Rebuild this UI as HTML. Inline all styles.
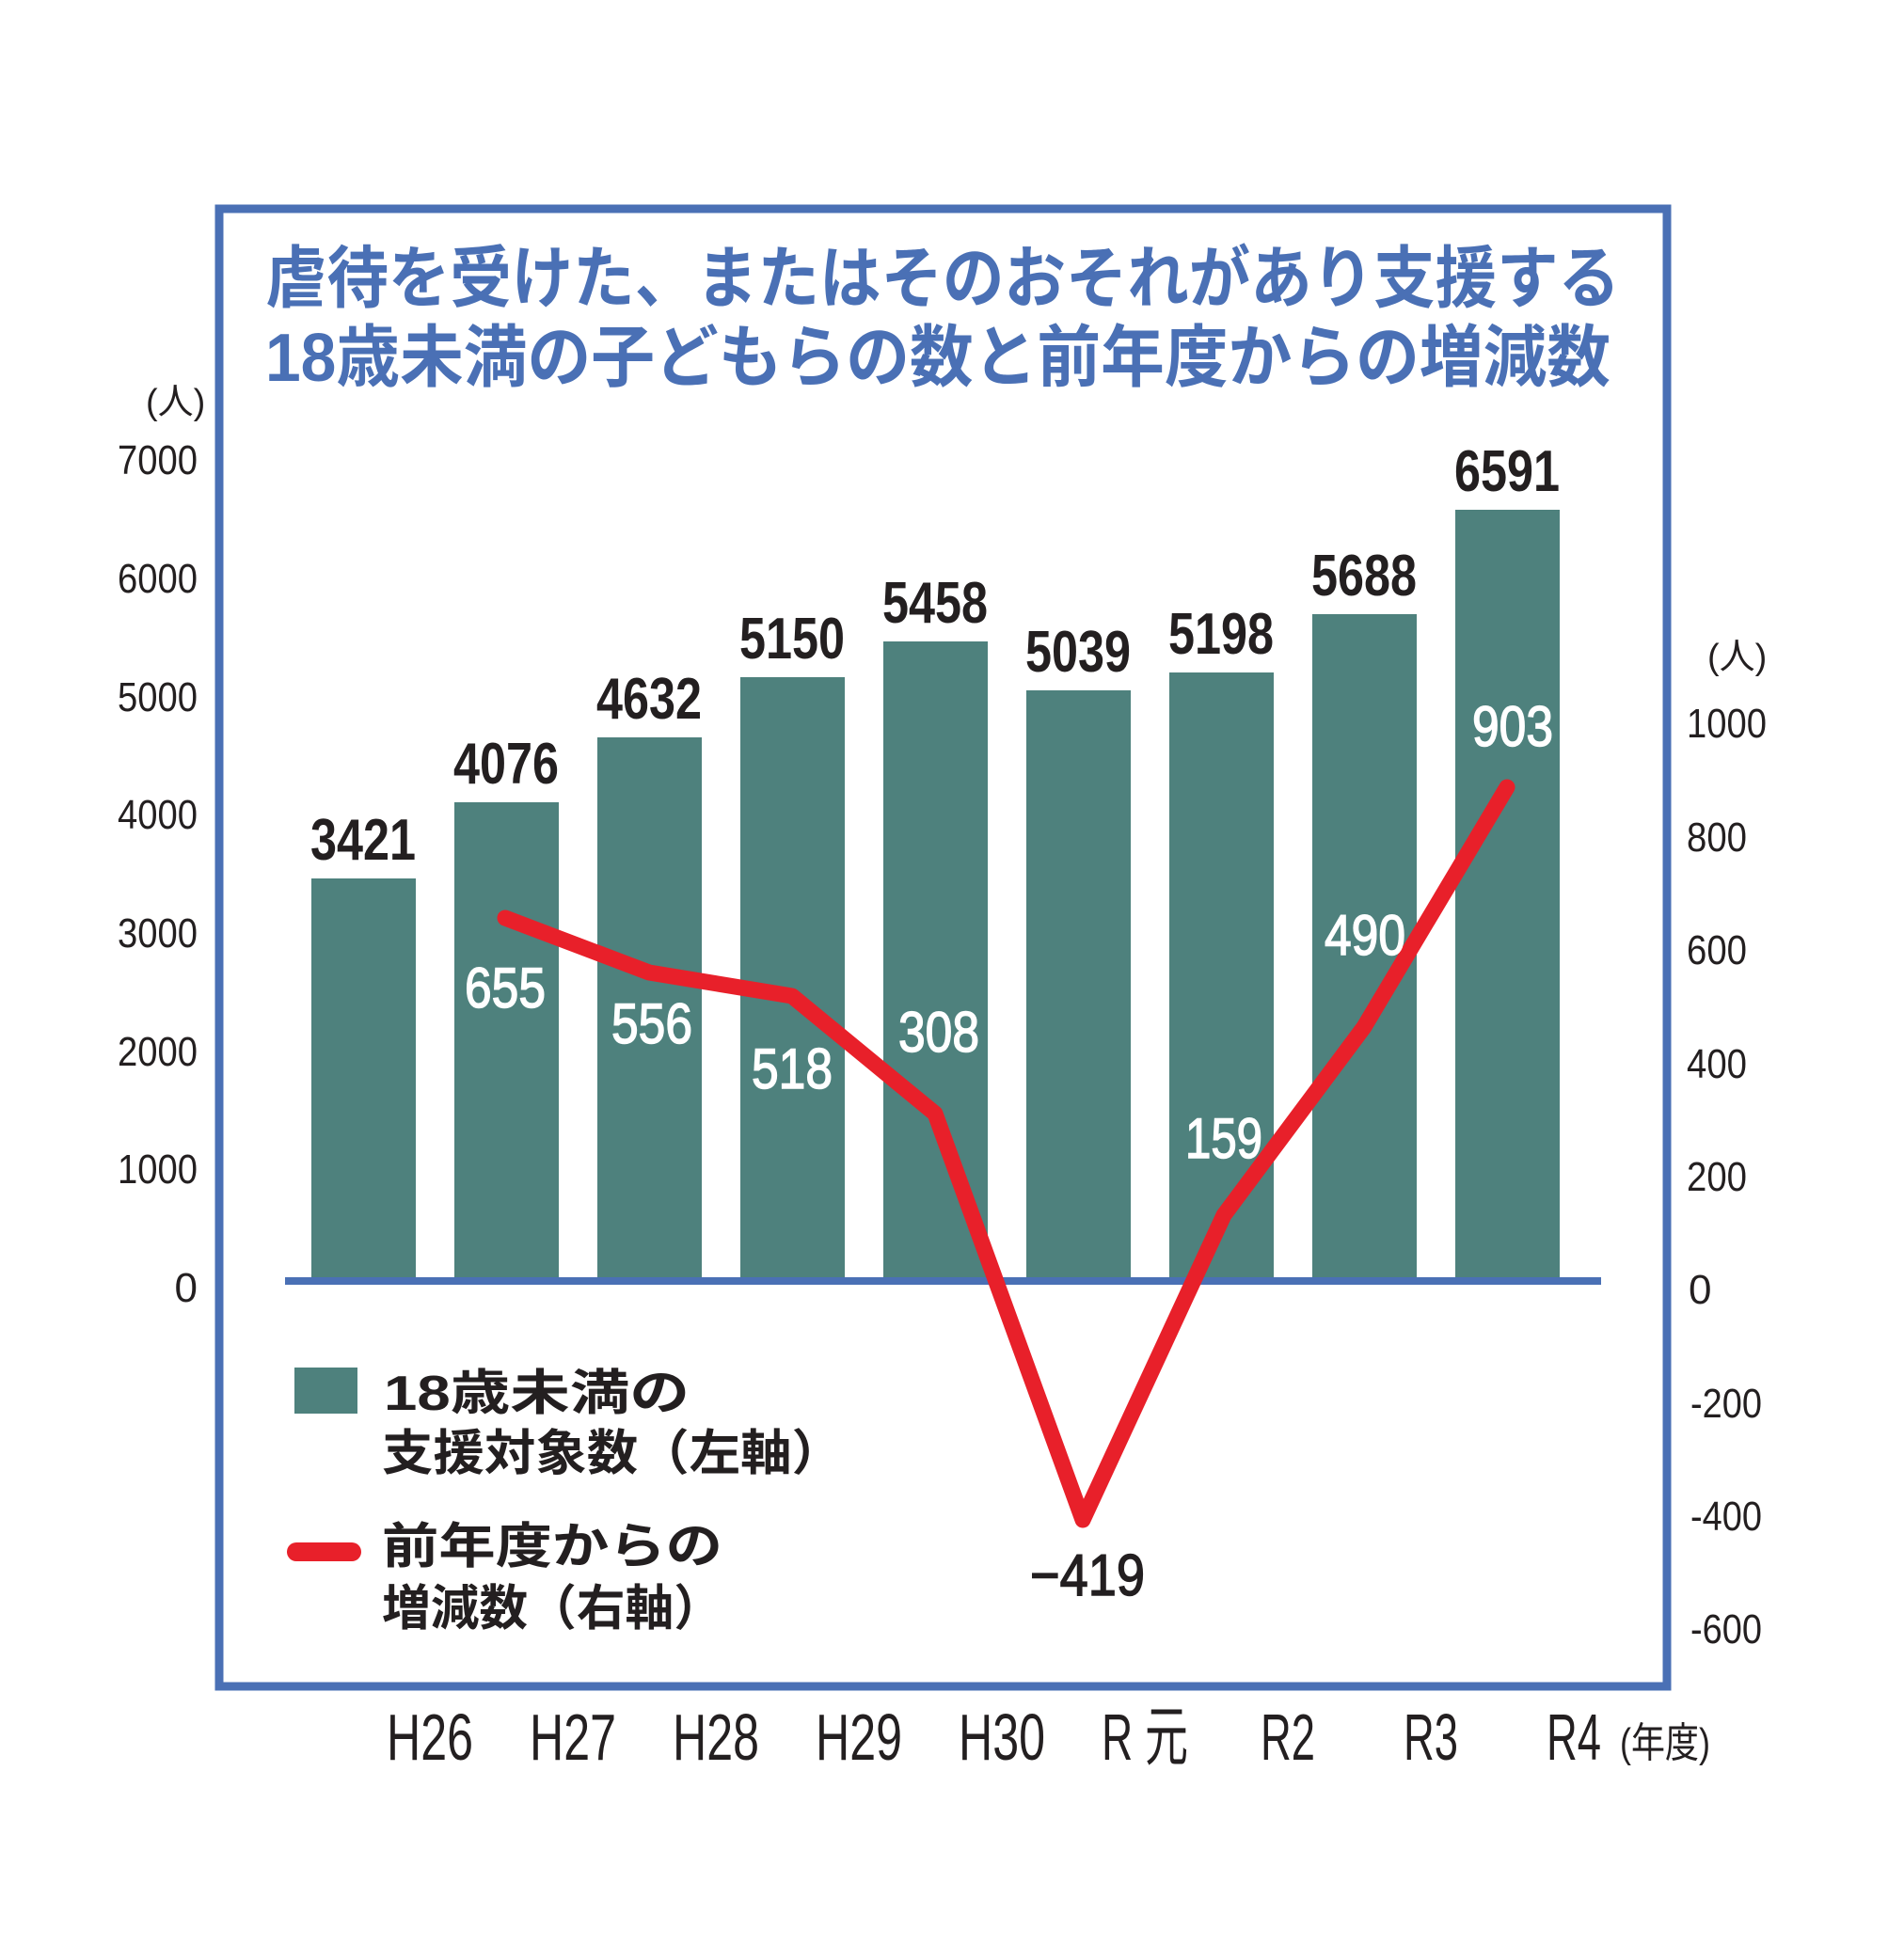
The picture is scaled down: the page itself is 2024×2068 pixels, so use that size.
<!DOCTYPE html>
<html><head><meta charset="utf-8"><style>html,body{margin:0;padding:0;background:#fff}svg{display:block}</style></head>
<body>
<svg width="2024" height="2068" viewBox="0 0 2024 2068" xmlns="http://www.w3.org/2000/svg">
<rect width="2024" height="2068" fill="#fff"/>
<rect x="233" y="222" width="1539" height="1571" fill="none" stroke="#4a70b5" stroke-width="9"/>
<g font-family="'Liberation Sans','Noto Sans CJK JP',sans-serif" font-weight="bold" fill="#4a70b5" font-size="72">
<text x="282" y="321" textLength="1440" lengthAdjust="spacingAndGlyphs">虐待を受けた、またはそのおそれがあり支援する</text>
<text x="282" y="405" textLength="1430" lengthAdjust="spacingAndGlyphs">18歳未満の子どもらの数と前年度からの増減数</text>
</g>
<g fill="#4e817d">
<rect x="331" y="934" width="111" height="426"/>
<rect x="483" y="853" width="111" height="507"/>
<rect x="635" y="784" width="111" height="576"/>
<rect x="787" y="720" width="111" height="640"/>
<rect x="939" y="682" width="111" height="678"/>
<rect x="1091" y="734" width="111" height="626"/>
<rect x="1243" y="715" width="111" height="645"/>
<rect x="1395" y="653" width="111" height="707"/>
<rect x="1547" y="542" width="111" height="818"/>
</g>
<rect x="303" y="1358" width="1399" height="8" fill="#4a70b5"/>
<g font-family="'Liberation Sans',sans-serif" font-weight="bold" font-size="62" fill="#231f20" text-anchor="middle">
<text x="386" y="914" textLength="112" lengthAdjust="spacingAndGlyphs">3421</text>
<text x="538" y="833" textLength="112" lengthAdjust="spacingAndGlyphs">4076</text>
<text x="690" y="764" textLength="112" lengthAdjust="spacingAndGlyphs">4632</text>
<text x="842" y="700" textLength="112" lengthAdjust="spacingAndGlyphs">5150</text>
<text x="994" y="662" textLength="112" lengthAdjust="spacingAndGlyphs">5458</text>
<text x="1146" y="714" textLength="112" lengthAdjust="spacingAndGlyphs">5039</text>
<text x="1298" y="695" textLength="112" lengthAdjust="spacingAndGlyphs">5198</text>
<text x="1450" y="633" textLength="112" lengthAdjust="spacingAndGlyphs">5688</text>
<text x="1602" y="522" textLength="112" lengthAdjust="spacingAndGlyphs">6591</text>
<text x="1156" y="1696" textLength="122" lengthAdjust="spacingAndGlyphs" font-weight="normal" stroke="#231f20" stroke-width="1.5">−419</text>
</g>
<polyline points="537,976 690,1034 842,1059 994,1184 1151,1616 1301,1292 1450,1092 1602,837" fill="none" stroke="#e8202a" stroke-width="17" stroke-linejoin="round" stroke-linecap="round"/>
<g font-family="'Liberation Sans',sans-serif" font-size="60" fill="#fff" stroke="#fff" stroke-width="1.5" text-anchor="middle">
<text x="537" y="1071" textLength="86" lengthAdjust="spacingAndGlyphs">655</text>
<text x="693" y="1109" textLength="86" lengthAdjust="spacingAndGlyphs">556</text>
<text x="842" y="1157" textLength="86" lengthAdjust="spacingAndGlyphs">518</text>
<text x="998" y="1118" textLength="86" lengthAdjust="spacingAndGlyphs">308</text>
<text x="1301" y="1231" textLength="82" lengthAdjust="spacingAndGlyphs">159</text>
<text x="1451" y="1015" textLength="86" lengthAdjust="spacingAndGlyphs">490</text>
<text x="1608" y="793" textLength="86" lengthAdjust="spacingAndGlyphs">903</text>
</g>
<g font-family="'Liberation Sans','Noto Sans CJK JP',sans-serif" font-size="44" fill="#231f20">
<text x="155" y="440" font-size="38">(人)</text>
<g text-anchor="end">
<text x="210" y="504" textLength="85" lengthAdjust="spacingAndGlyphs">7000</text>
<text x="210" y="630" textLength="85" lengthAdjust="spacingAndGlyphs">6000</text>
<text x="210" y="756" textLength="85" lengthAdjust="spacingAndGlyphs">5000</text>
<text x="210" y="881" textLength="85" lengthAdjust="spacingAndGlyphs">4000</text>
<text x="210" y="1007" textLength="85" lengthAdjust="spacingAndGlyphs">3000</text>
<text x="210" y="1133" textLength="85" lengthAdjust="spacingAndGlyphs">2000</text>
<text x="210" y="1258" textLength="85" lengthAdjust="spacingAndGlyphs">1000</text>
<text x="210" y="1384">0</text>
</g>
<text x="1815" y="711" font-size="38">(人)</text>
<text x="1793" y="784" textLength="85" lengthAdjust="spacingAndGlyphs">1000</text>
<text x="1793" y="905" textLength="64" lengthAdjust="spacingAndGlyphs">800</text>
<text x="1793" y="1025" textLength="64" lengthAdjust="spacingAndGlyphs">600</text>
<text x="1793" y="1146" textLength="64" lengthAdjust="spacingAndGlyphs">400</text>
<text x="1793" y="1266" textLength="64" lengthAdjust="spacingAndGlyphs">200</text>
<text x="1795" y="1386">0</text>
<text x="1797" y="1507" textLength="76" lengthAdjust="spacingAndGlyphs">-200</text>
<text x="1797" y="1627" textLength="76" lengthAdjust="spacingAndGlyphs">-400</text>
<text x="1797" y="1747" textLength="76" lengthAdjust="spacingAndGlyphs">-600</text>
</g>
<g font-family="'Liberation Sans','Noto Sans CJK JP',sans-serif" font-size="70" fill="#231f20" text-anchor="middle">
<text x="457" y="1871" textLength="92" lengthAdjust="spacingAndGlyphs">H26</text>
<text x="609" y="1871" textLength="92" lengthAdjust="spacingAndGlyphs">H27</text>
<text x="761" y="1871" textLength="92" lengthAdjust="spacingAndGlyphs">H28</text>
<text x="913" y="1871" textLength="92" lengthAdjust="spacingAndGlyphs">H29</text>
<text x="1065" y="1871" textLength="92" lengthAdjust="spacingAndGlyphs">H30</text>
<text x="1217" y="1871" textLength="92" lengthAdjust="spacingAndGlyphs">R 元</text>
<text x="1369" y="1871" textLength="58" lengthAdjust="spacingAndGlyphs">R2</text>
<text x="1521" y="1871" textLength="58" lengthAdjust="spacingAndGlyphs">R3</text>
<text x="1673" y="1871" textLength="58" lengthAdjust="spacingAndGlyphs">R4</text>
<text x="1770" y="1868" font-size="44" textLength="96" lengthAdjust="spacingAndGlyphs">(年度)</text>
</g>
<rect x="313" y="1454" width="67" height="49" fill="#4e817d"/>
<line x1="315" y1="1650" x2="374" y2="1650" stroke="#e8202a" stroke-width="20" stroke-linecap="round"/>
<g font-family="'Liberation Sans','Noto Sans CJK JP',sans-serif" font-weight="bold" font-size="52" fill="#231f20">
<text x="408" y="1499" textLength="325" lengthAdjust="spacingAndGlyphs">18歳未満の</text>
<text x="406" y="1563" textLength="490" lengthAdjust="spacingAndGlyphs">支援対象数（左軸）</text>
<text x="406" y="1662" textLength="362" lengthAdjust="spacingAndGlyphs">前年度からの</text>
<text x="406" y="1728" textLength="362" lengthAdjust="spacingAndGlyphs">増減数（右軸）</text>
</g>
</svg>
</body></html>
